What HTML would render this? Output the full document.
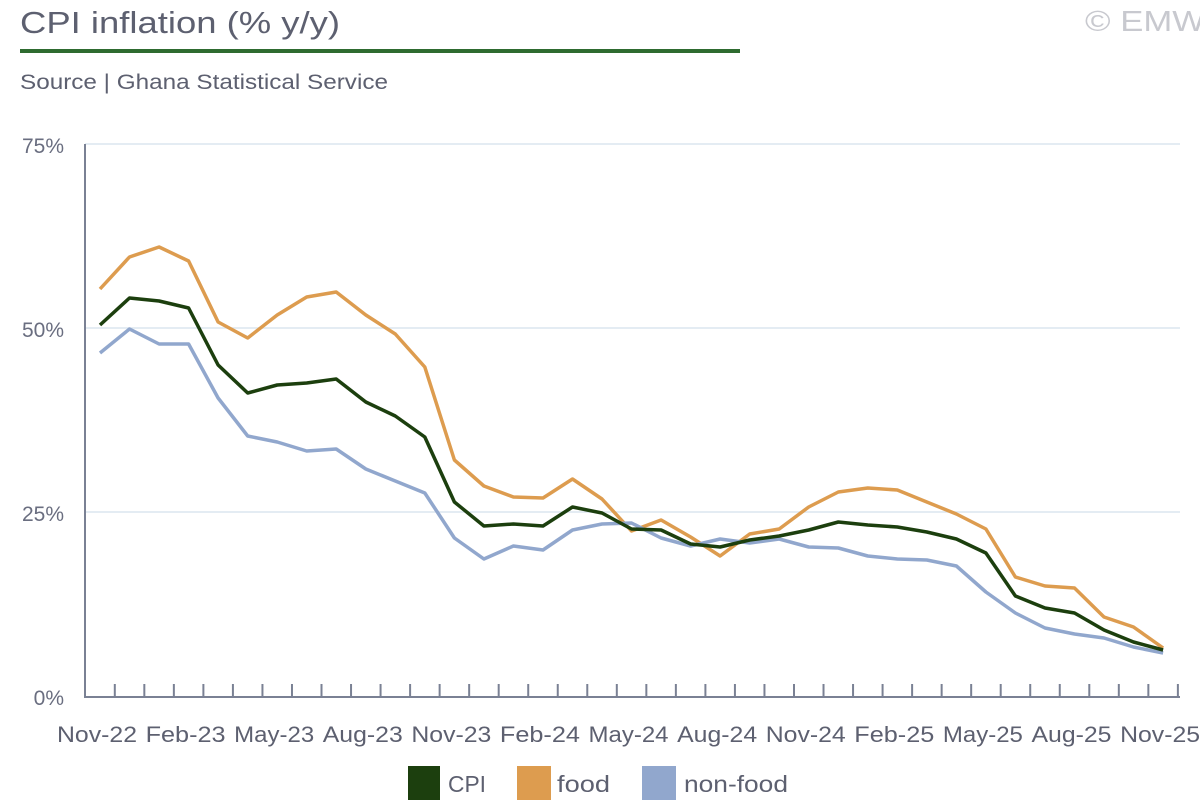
<!DOCTYPE html>
<html><head><meta charset="utf-8"><style>
html,body{margin:0;padding:0;background:#fff;}
svg{display:block;font-family:"Liberation Sans",sans-serif;}
</style></head><body>
<svg width="1200" height="800" viewBox="0 0 1200 800">
<text x="20" y="33" font-size="31" fill="#5d6070" textLength="320" lengthAdjust="spacingAndGlyphs">CPI inflation (% y/y)</text>
<text x="1085" y="31" font-size="29" fill="#c8c9cf" textLength="120" lengthAdjust="spacingAndGlyphs">© EMW</text>
<rect x="20" y="49" width="720" height="4" fill="#2e6b30"/>
<text x="20" y="89" font-size="21" fill="#5d6070" textLength="368" lengthAdjust="spacingAndGlyphs">Source | Ghana Statistical Service</text>
<g stroke="#dce6ef" stroke-width="1.5">
<line x1="85" y1="144" x2="1180" y2="144"/>
<line x1="85" y1="328" x2="1180" y2="328"/>
<line x1="85" y1="512" x2="1180" y2="512"/>
</g>
<g font-size="21" fill="#6a6e80" text-anchor="end">
<text x="64" y="153">75%</text>
<text x="64" y="337">50%</text>
<text x="64" y="521">25%</text>
<text x="64" y="705">0%</text>
</g>
<g stroke="#7a8194" stroke-width="2" fill="none">
<line x1="85" y1="144" x2="85" y2="698"/>
<line x1="84" y1="697" x2="1180" y2="697"/>
</g>
<g id="tk" stroke="#7a8194" stroke-width="2"></g>
<g font-size="22" fill="#5d6070" text-anchor="middle" id="xl"></g>
<polyline id="food" fill="none" stroke="#dd9c4f" stroke-width="3.5" stroke-linejoin="round"/>
<polyline id="nf" fill="none" stroke="#91a7cd" stroke-width="3.5" stroke-linejoin="round"/>
<polyline id="cpi" fill="none" stroke="#1c3f0e" stroke-width="3.5" stroke-linejoin="round"/>
<rect x="408" y="766" width="32" height="34" fill="#1c3f0e"/>
<text x="448" y="792" font-size="23" fill="#5d6070" textLength="38" lengthAdjust="spacingAndGlyphs">CPI</text>
<rect x="517" y="766" width="34" height="34" fill="#dd9c4f"/>
<text x="557" y="792" font-size="23" fill="#5d6070" textLength="53" lengthAdjust="spacingAndGlyphs">food</text>
<rect x="642" y="766" width="34" height="34" fill="#91a7cd"/>
<text x="684" y="792" font-size="23" fill="#5d6070" textLength="104" lengthAdjust="spacingAndGlyphs">non-food</text>
</svg>
<script>
var cpi=[325,298,301,308,365,393,385,383,379,402,416,437,502,526,524,526,507,513,529,530,544,547,540,536,530,522,525,527,532,539,553,596,608,613,630,642,650];
var food=[289,257,247,261,322,338,315,297,292,315,334,367,460,486,497,498,479,499,531,520,537,556,534,529,507,492,488,490,502,514,529,577,586,588,617,627,648];
var nf=[353,329,344,344,398,436,442,451,449,469,481,493,538,559,546,550,530,524,523,538,546,539,543,539,547,548,556,559,560,566,592,613,628,634,638,647,653];
function X(i){return 100+i*29.53;}
function pts(a){return a.map(function(v,i){return X(i).toFixed(1)+","+v;}).join(" ");}
document.getElementById('cpi').setAttribute('points',pts(cpi));
document.getElementById('food').setAttribute('points',pts(food));
document.getElementById('nf').setAttribute('points',pts(nf));
var ns="http://www.w3.org/2000/svg",tk=document.getElementById('tk'),xl=document.getElementById('xl');
for(var i=0;i<37;i++){var x=X(i)+14.8;var l=document.createElementNS(ns,'line');l.setAttribute('x1',x);l.setAttribute('x2',x);l.setAttribute('y1',684);l.setAttribute('y2',697);tk.appendChild(l);}
var labs=["Nov-22","Feb-23","May-23","Aug-23","Nov-23","Feb-24","May-24","Aug-24","Nov-24","Feb-25","May-25","Aug-25","Nov-25"];
for(var j=0;j<13;j++){var t=document.createElementNS(ns,'text');t.setAttribute('x',X(j*3)-3);t.setAttribute('y',742);t.setAttribute('textLength',80);t.setAttribute('lengthAdjust','spacingAndGlyphs');t.textContent=labs[j];xl.appendChild(t);}
</script>
</body></html>
